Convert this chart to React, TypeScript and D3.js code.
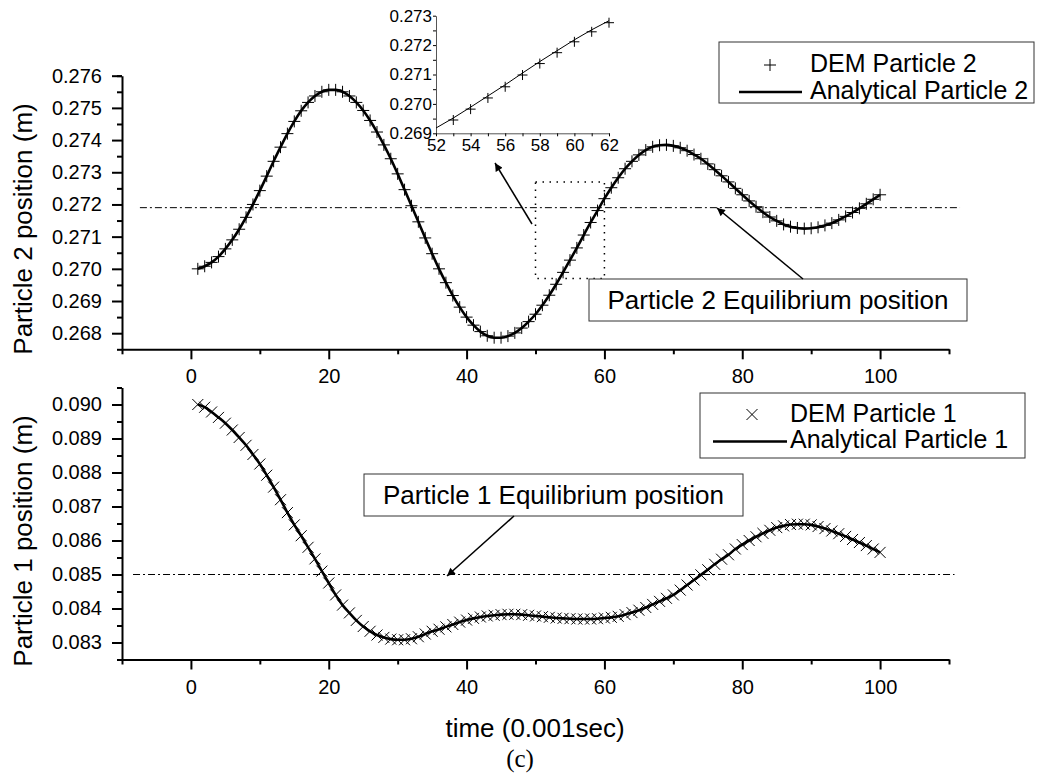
import { useEffect, useRef } from 'react';
import * as d3 from 'd3';

const W = 1037;
const H = 777;
const FONT = '"Liberation Sans", Arial, sans-serif';

// time steps, 0.001 sec
const TIME = d3.range(1, 101);

// Particle 2 position (m), t = 1..100
const PARTICLE2 = [
  0.27000, 0.27008, 0.27020, 0.27038, 0.27062, 0.27090, 0.27123, 0.27160, 0.27200, 0.27243,
  0.27288, 0.27334, 0.27378, 0.27420, 0.27458, 0.27491, 0.27517, 0.27537, 0.27550, 0.27556,
  0.27556, 0.27550, 0.27537, 0.27517, 0.27492, 0.27461, 0.27425, 0.27385, 0.27342, 0.27295,
  0.27246, 0.27196, 0.27146, 0.27096, 0.27047, 0.27000, 0.26957, 0.26917, 0.26881, 0.26850,
  0.26825, 0.26805, 0.26792, 0.26786, 0.26786, 0.26791, 0.26801, 0.26816, 0.26836, 0.26859,
  0.26887, 0.26918, 0.26952, 0.26989, 0.27027, 0.27065, 0.27105, 0.27144, 0.27181, 0.27218,
  0.27252, 0.27283, 0.27311, 0.27334, 0.27354, 0.27369, 0.27379, 0.27384, 0.27385, 0.27382,
  0.27376, 0.27367, 0.27355, 0.27342, 0.27326, 0.27308, 0.27289, 0.27270, 0.27250, 0.27230,
  0.27211, 0.27193, 0.27176, 0.27161, 0.27149, 0.27138, 0.27131, 0.27127, 0.27125, 0.27126,
  0.27129, 0.27135, 0.27142, 0.27152, 0.27163, 0.27175, 0.27188, 0.27202, 0.27216, 0.27230,
];

// Particle 1 position (m), t = 1..100
const PARTICLE1 = [
  0.09000, 0.08992, 0.08978, 0.08962, 0.08945, 0.08925, 0.08903, 0.08880, 0.08853, 0.08825,
  0.08792, 0.08757, 0.08720, 0.08682, 0.08646, 0.08614, 0.08580, 0.08546, 0.08510, 0.08475,
  0.08440, 0.08410, 0.08387, 0.08365, 0.08347, 0.08333, 0.08322, 0.08315, 0.08310, 0.08308,
  0.08308, 0.08311, 0.08317, 0.08325, 0.08333, 0.08339, 0.08346, 0.08353, 0.08360, 0.08366,
  0.08371, 0.08375, 0.08378, 0.08380, 0.08382, 0.08383, 0.08383, 0.08382, 0.08380, 0.08378,
  0.08376, 0.08374, 0.08372, 0.08371, 0.08370, 0.08369, 0.08369, 0.08369, 0.08370, 0.08372,
  0.08374, 0.08377, 0.08382, 0.08388, 0.08395, 0.08403, 0.08412, 0.08421, 0.08430, 0.08440,
  0.08454, 0.08469, 0.08484, 0.08499, 0.08514, 0.08530, 0.08545, 0.08558, 0.08575, 0.08588,
  0.08600, 0.08611, 0.08621, 0.08630, 0.08638, 0.08643, 0.08647, 0.08648, 0.08648, 0.08646,
  0.08641, 0.08635, 0.08628, 0.08620, 0.08612, 0.08603, 0.08594, 0.08585, 0.08575, 0.08565,
];

const EQ2 = 0.2719;
const EQ1 = 0.085;

const X_MAJOR = [0, 20, 40, 60, 80, 100];
const X_MINOR = [-10, 10, 30, 50, 70, 90, 110];
const Y2_MAJOR = [0.268, 0.269, 0.27, 0.271, 0.272, 0.273, 0.274, 0.275, 0.276];
const Y1_MAJOR = [0.083, 0.084, 0.085, 0.086, 0.087, 0.088, 0.089, 0.09];
const INSET_X = [52, 54, 56, 58, 60, 62];
const INSET_Y = [0.269, 0.27, 0.271, 0.272, 0.273];

// zoom window marked on the top plot
const ZOOM_BOX = { t0: 50, t1: 60, y0: 0.2697, y1: 0.2727 };

const PLUS = 'M-6,0H6M0,-6V6';
const CROSS = 'M-5.5,-5.5L5.5,5.5M-5.5,5.5L5.5,-5.5';

type G = d3.Selection<SVGGElement, unknown, null, undefined>;
type Svg = d3.Selection<SVGSVGElement, unknown, null, undefined>;

function styleAxis(a: G, fontSize: number, width: number) {
  a.select('.domain').attr('stroke', '#000').attr('stroke-width', width);
  a.selectAll('.tick line').attr('stroke', '#000').attr('stroke-width', width);
  a.selectAll('.tick text')
    .attr('font-size', fontSize)
    .attr('font-family', FONT)
    .attr('fill', '#000');
}

function arrow(svg: Svg, x1: number, y1: number, x2: number, y2: number) {
  svg.append('line')
    .attr('x1', x1).attr('y1', y1)
    .attr('x2', x2).attr('y2', y2)
    .attr('stroke', '#000')
    .attr('stroke-width', 1.5)
    .attr('marker-end', 'url(#head)');
}

function labelBox(svg: Svg, x: number, y: number, w: number, h: number, text: string) {
  svg.append('rect')
    .attr('x', x).attr('y', y)
    .attr('width', w).attr('height', h)
    .attr('fill', '#fff')
    .attr('stroke', '#333')
    .attr('stroke-width', 1);
  svg.append('text')
    .attr('x', x + w / 2)
    .attr('y', y + 30)
    .attr('text-anchor', 'middle')
    .attr('font-size', 26)
    .attr('font-family', FONT)
    .text(text);
}

export default function App() {
  const svgRef = useRef<SVGSVGElement>(null);

  useEffect(() => {
    if (!svgRef.current) return;
    const svg = d3.select(svgRef.current);
    svg.selectAll('*').remove();

    svg.append('defs')
      .append('marker')
      .attr('id', 'head')
      .attr('viewBox', '0 0 10 10')
      .attr('refX', 10)
      .attr('refY', 5)
      .attr('markerWidth', 10)
      .attr('markerHeight', 8)
      .attr('markerUnits', 'userSpaceOnUse')
      .attr('orient', 'auto')
      .append('path')
      .attr('d', 'M0,0L10,5L0,10Z')
      .attr('fill', '#000');

    const x = d3.scaleLinear().domain([-10, 110]).range([122, 949]);
    const y2 = d3.scaleLinear().domain([0.2675, 0.276]).range([349.3, 75.7]);
    const y1 = d3.scaleLinear().domain([0.0825, 0.0905]).range([659.5, 387.5]);

    const panels = [
      { y: y2, data: PARTICLE2, major: Y2_MAJOR, eq: EQ2, marker: PLUS, eqSpan: [-7.4, 111.6] },
      { y: y1, data: PARTICLE1, major: Y1_MAJOR, eq: EQ1, marker: CROSS, eqSpan: [-8.4, 110.8] },
    ];

    panels.forEach((p) => {
      const [yMin, yMax] = p.y.domain();
      const yMinor = p.major.map((v) => v - 0.0005).concat([yMax]);
      const base = p.y(yMin);

      // minor ticks
      const ymn = svg.append('g').attr('transform', 'translate(122,0)')
        .call(d3.axisLeft(p.y).tickValues(yMinor).tickSize(5).tickSizeOuter(0).tickFormat(() => ''));
      ymn.select('.domain').remove();
      styleAxis(ymn, 20, 2);
      const xmn = svg.append('g').attr('transform', `translate(0,${base})`)
        .call(d3.axisBottom(x).tickValues(X_MINOR).tickSize(5).tickSizeOuter(0).tickFormat(() => ''));
      xmn.select('.domain').remove();
      styleAxis(xmn, 20, 2);

      // major ticks + axis lines
      const ya = svg.append('g').attr('transform', 'translate(122,0)')
        .call(d3.axisLeft(p.y).tickValues(p.major).tickSize(10).tickSizeOuter(0)
          .tickPadding(10).tickFormat(d3.format('.3f')));
      styleAxis(ya, 20, 2);
      const xa = svg.append('g').attr('transform', `translate(0,${base})`)
        .call(d3.axisBottom(x).tickValues(X_MAJOR).tickSize(10).tickSizeOuter(0).tickPadding(10));
      styleAxis(xa, 20, 2);

      // equilibrium line
      svg.append('line')
        .attr('x1', x(p.eqSpan[0])).attr('x2', x(p.eqSpan[1]))
        .attr('y1', p.y(p.eq)).attr('y2', p.y(p.eq))
        .attr('stroke', '#000')
        .attr('stroke-width', 1)
        .attr('stroke-dasharray', '7,3,2,3');

      // DEM markers
      svg.append('g')
        .selectAll('path')
        .data(p.data)
        .join('path')
        .attr('transform', (d, i) => `translate(${x(TIME[i])},${p.y(d)})`)
        .attr('d', p.marker)
        .attr('stroke', '#000')
        .attr('stroke-width', 1)
        .attr('fill', 'none');

      // analytical solution
      const line = d3.line<number>()
        .x((_, i) => x(TIME[i]))
        .y((d) => p.y(d))
        .curve(d3.curveMonotoneX);
      svg.append('path')
        .attr('d', line(p.data))
        .attr('fill', 'none')
        .attr('stroke', '#000')
        .attr('stroke-width', 2.6);
    });

    // zoom window (dotted)
    svg.append('rect')
      .attr('x', x(ZOOM_BOX.t0))
      .attr('y', y2(ZOOM_BOX.y1))
      .attr('width', x(ZOOM_BOX.t1) - x(ZOOM_BOX.t0))
      .attr('height', y2(ZOOM_BOX.y0) - y2(ZOOM_BOX.y1))
      .attr('fill', 'none')
      .attr('stroke', '#000')
      .attr('stroke-width', 1.5)
      .attr('stroke-dasharray', '1.5,5.5');

    // inset
    const ix = d3.scaleLinear().domain([52, 62]).range([436, 609]);
    const iy = d3.scaleLinear().domain([0.269, 0.273]).range([133.3, 15.7]);
    const insetY = svg.append('g').attr('transform', 'translate(436,0)')
      .call(d3.axisLeft(iy).tickValues(d3.range(0.269, 0.27301, 0.0005)).tickSize(3)
        .tickSizeOuter(0).tickPadding(1)
        .tickFormat((d) => (INSET_Y.some((v) => Math.abs(v - +d) < 1e-7) ? d3.format('.3f')(+d) : '')));
    styleAxis(insetY, 17, 1);
    insetY.select('.domain').attr('stroke', '#555');
    const insetX = svg.append('g').attr('transform', 'translate(0,133.3)')
      .call(d3.axisBottom(ix).tickValues(d3.range(52, 63, 1)).tickSize(3).tickSizeOuter(0).tickPadding(3)
        .tickFormat((d) => (INSET_X.includes(+d) ? String(d) : '')));
    styleAxis(insetX, 17, 1);
    insetX.select('.domain').attr('stroke', '#555');

    const insetIdx = TIME.map((t, i) => i).filter((i) => TIME[i] >= 52 && TIME[i] <= 62);
    svg.append('path')
      .attr('d', d3.line<number>().x((i) => ix(TIME[i])).y((i) => iy(PARTICLE2[i]))(insetIdx))
      .attr('fill', 'none')
      .attr('stroke', '#000')
      .attr('stroke-width', 1);
    svg.append('g')
      .selectAll('path')
      .data(insetIdx.filter((i) => TIME[i] > 52))
      .join('path')
      .attr('transform', (i) => `translate(${ix(TIME[i])},${iy(PARTICLE2[i]) + 2})`)
      .attr('d', 'M-5,0H5M0,-5V5')
      .attr('stroke', '#000')
      .attr('stroke-width', 1);

    // annotations
    labelBox(svg, 589, 279, 378, 42, 'Particle 2 Equilibrium position');
    labelBox(svg, 364, 474, 379, 42, 'Particle 1 Equilibrium position');
    arrow(svg, 803, 279, 717, 208);
    arrow(svg, 532, 224, 495, 163);
    arrow(svg, 514, 516, 447, 576);

    // legends
    const legends = [
      { box: [719, 42, 315, 61], marker: PLUS, name: 'Particle 2', mx: 770, sx: [739, 802], tx: 810, base: 72 },
      { box: [700, 393, 325, 65], marker: CROSS, name: 'Particle 1', mx: 752, sx: [713, 787], tx: 790, base: 421.5 },
    ];
    legends.forEach((l) => {
      const [bx, by, bw, bh] = l.box;
      svg.append('rect')
        .attr('x', bx).attr('y', by).attr('width', bw).attr('height', bh)
        .attr('fill', '#fff').attr('stroke', '#333').attr('stroke-width', 1);
      svg.append('path')
        .attr('transform', `translate(${l.mx},${l.base - 7})`)
        .attr('d', l.marker)
        .attr('stroke', '#000')
        .attr('stroke-width', 1);
      svg.append('line')
        .attr('x1', l.sx[0]).attr('x2', l.sx[1])
        .attr('y1', l.base + 20).attr('y2', l.base + 20)
        .attr('stroke', '#000').attr('stroke-width', 2.6);
      svg.append('text')
        .attr('x', l.tx).attr('y', l.base)
        .attr('font-size', 25).attr('font-family', FONT)
        .text(`DEM ${l.name}`);
      svg.append('text')
        .attr('x', l.tx).attr('y', l.base + 26.5)
        .attr('font-size', 25).attr('font-family', FONT)
        .text(`Analytical ${l.name}`);
    });

    // axis titles
    [
      { cy: 229, text: 'Particle 2 position (m)' },
      { cy: 541, text: 'Particle 1 position (m)' },
    ].forEach((t) => {
      svg.append('text')
        .attr('transform', `translate(32,${t.cy}) rotate(-90)`)
        .attr('text-anchor', 'middle')
        .attr('font-size', 26)
        .attr('font-family', FONT)
        .text(t.text);
    });
    svg.append('text')
      .attr('x', 535).attr('y', 737)
      .attr('text-anchor', 'middle')
      .attr('font-size', 26)
      .attr('font-family', FONT)
      .text('time (0.001sec)');
    svg.append('text')
      .attr('x', 520).attr('y', 767)
      .attr('text-anchor', 'middle')
      .attr('font-size', 25)
      .attr('font-family', '"Liberation Serif", "Times New Roman", serif')
      .text('(c)');
  }, []);

  return (
    <svg
      ref={svgRef}
      width={W}
      height={H}
      style={{ position: 'absolute', left: 0, top: 0, background: '#fff' }}
    />
  );
}
